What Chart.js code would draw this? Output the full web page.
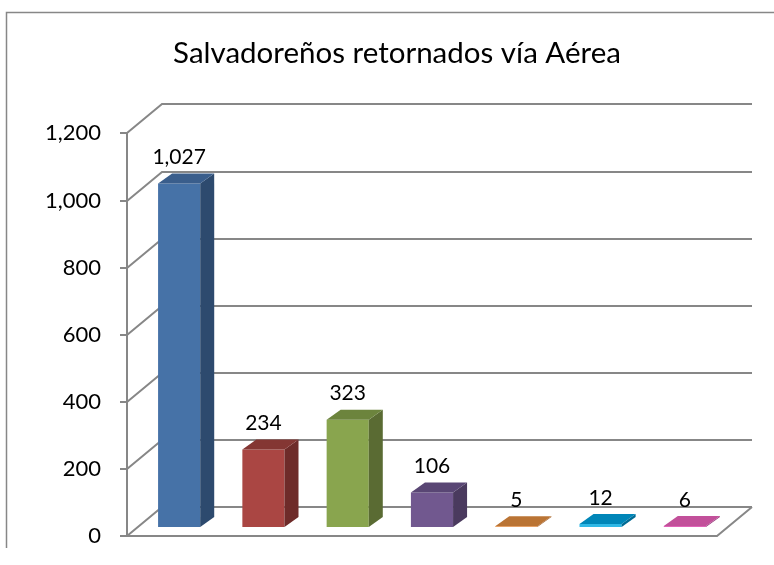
<!DOCTYPE html>
<html>
<head>
<meta charset="utf-8">
<script src="https://cdn.jsdelivr.net/npm/chart.js@4/dist/chart.umd.min.js"></script>
<style>
  html, body { margin: 0; padding: 0; background: #fff; }
  #wrap { width: 774px; height: 565px; }
</style>
</head>
<body>
<div id="wrap"><canvas id="grafico"></canvas></div>
<script>
// datos
const titulo = 'Salvadoreños retornados vía Aérea';
const categorias = ['1', '2', '3', '4', '5', '6', '7'];
const valores = [1027, 234, 323, 106, 5, 12, 6];
const ejeMax = 1200;
const ejePaso = 200;

// colores de cada barra: frente, lado, tapa
const colorFrente = ['#4672A7', '#AA4643', '#89A54E', '#71588F', '#F0994E', '#2FB8E6', '#E063B8'];
const colorLado   = ['#2D4A6E', '#6E2B29', '#5A6B33', '#4A3A5E', '#9A5A24', '#006B94', '#94397A'];
const colorTapa   = ['#3A5E8C', '#843633', '#6C843D', '#594674', '#BA7434', '#0086B8', '#C2509A'];

const GRIS = '#878787';
const FUENTE = 'Lato, "Liberation Sans", sans-serif';

// profundidad del 3D (en px)
const prof = { dx: 35, dy: -29 };      // pared del fondo
const barraDesp = { dx: 10, dy: -8 };  // cara frontal de la barra
const barraProf = { dx: 14, dy: -10 }; // grosor de la barra

const sinRelleno = (s) => { s.paddingTop = 0; s.paddingBottom = 0; };

const tresD = {
    id: 'tresD',
    beforeDraw(chart) {
        const ctx = chart.ctx;
        ctx.save();
        ctx.strokeStyle = GRIS;
        ctx.lineWidth = 1.5;
        ctx.beginPath();
        ctx.moveTo(6.5, 548);
        ctx.lineTo(6.5, 12.5);
        ctx.lineTo(800, 12.5);
        ctx.stroke();
        ctx.restore();
    },
    beforeDatasetsDraw(chart) {
        const ctx = chart.ctx;
        const a = chart.chartArea;
        const y = chart.scales.y;
        ctx.save();
        ctx.strokeStyle = GRIS;
        ctx.lineWidth = 2;
        // pared del fondo + pared izquierda
        for (let v = 0; v <= ejeMax; v += ejePaso) {
            const py = Math.round(y.getPixelForValue(v));
            ctx.beginPath();
            ctx.moveTo(a.left, py);
            ctx.lineTo(a.left + prof.dx, py + prof.dy);
            ctx.lineTo(a.right + prof.dx, py + prof.dy);
            ctx.stroke();
        }
        // piso
        const p0 = Math.round(y.getPixelForValue(0));
        ctx.beginPath();
        ctx.moveTo(a.left, p0);
        ctx.lineTo(a.right, p0);
        ctx.lineTo(a.right + prof.dx, p0 + prof.dy);
        ctx.stroke();
        ctx.restore();

        // las barras se dibujan un poco hacia adentro
        ctx.save();
        ctx.translate(barraDesp.dx, barraDesp.dy);
    },
    afterDatasetsDraw(chart) {
        const ctx = chart.ctx;
        const meta = chart.getDatasetMeta(0);
        meta.data.forEach((el, i) => {
            const x1 = el.x - el.width / 2;
            const x2 = el.x + el.width / 2;
            const top = el.y, base = el.base;
            const dx = barraProf.dx, dy = barraProf.dy;
            // lado
            ctx.fillStyle = colorLado[i];
            ctx.beginPath();
            ctx.moveTo(x2, top);
            ctx.lineTo(x2 + dx, top + dy);
            ctx.lineTo(x2 + dx, base + dy);
            ctx.lineTo(x2, base);
            ctx.closePath();
            ctx.fill();
            // tapa
            ctx.fillStyle = colorTapa[i];
            ctx.beginPath();
            ctx.moveTo(x1, top);
            ctx.lineTo(x2, top);
            ctx.lineTo(x2 + dx, top + dy);
            ctx.lineTo(x1 + dx, top + dy);
            ctx.closePath();
            ctx.fill();
        });
        // etiquetas de valor
        ctx.fillStyle = '#000';
        ctx.font = '21px ' + FUENTE;
        ctx.textAlign = 'center';
        ctx.textBaseline = 'middle';
        meta.data.forEach((el, i) => {
            ctx.fillText(valores[i].toLocaleString('en-US'), el.x, el.y - 26);
        });
        ctx.restore();
    }
};

new Chart(document.getElementById('grafico'), {
    type: 'bar',
    data: {
        labels: categorias,
        datasets: [{
            data: valores,
            backgroundColor: colorFrente,
            borderWidth: 0,
            categoryPercentage: 1,
            barPercentage: 0.5,
            clip: false
        }]
    },
    plugins: [tresD],
    options: {
        responsive: true,
        maintainAspectRatio: false,
        animation: false,
        locale: 'en-US',
        layout: { padding: { left: 20, right: 0, top: 0, bottom: 29 } },
        plugins: {
            legend: { display: false },
            tooltip: { enabled: false },
            title: {
                display: true,
                text: titulo,
                color: '#000',
                font: { family: FUENTE, size: 29.5, weight: 'normal' },
                padding: { top: 36, bottom: 62 }
            }
        },
        scales: {
            x: { display: false },
            y: {
                min: 0,
                max: ejeMax,
                afterFit: (s) => { s.width = 107; sinRelleno(s); },
                ticks: {
                    stepSize: ejePaso,
                    color: '#000',
                    padding: 19,
                    font: { family: FUENTE, size: 22 }
                },
                grid: {
                    drawOnChartArea: false,
                    drawTicks: true,
                    tickLength: 7,
                    color: GRIS,
                    lineWidth: 2
                },
                border: { display: true, color: GRIS, width: 2 }
            },
            // eje vacío a la derecha, sólo reserva el espacio de la profundidad
            margen: {
                type: 'linear',
                position: 'right',
                afterFit: (s) => { s.width = 57; sinRelleno(s); },
                ticks: { display: false },
                grid: { display: false },
                border: { display: false }
            }
        }
    }
});
</script>
</body>
</html>
